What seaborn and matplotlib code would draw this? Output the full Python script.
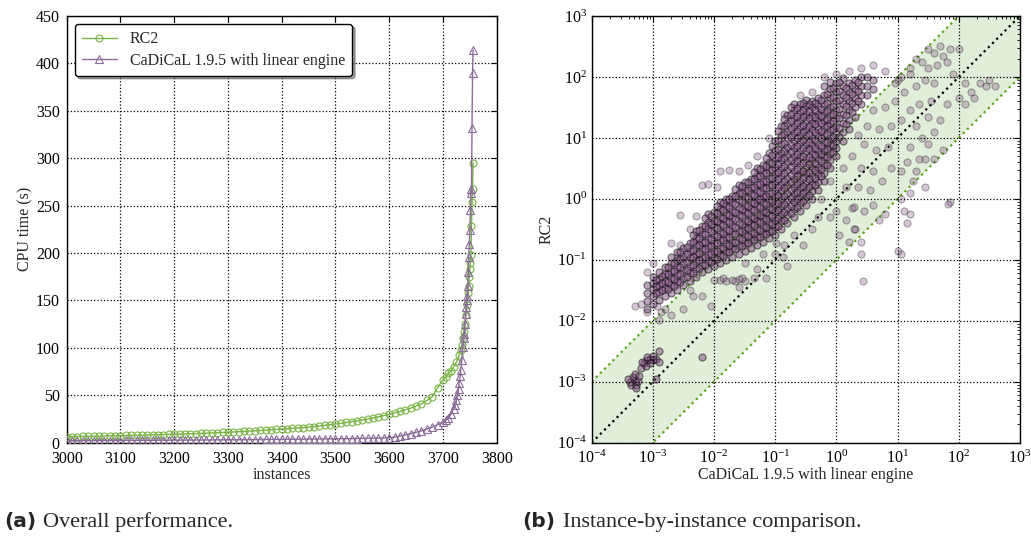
import numpy as np
import pandas as pd
import matplotlib
matplotlib.use("Agg")
import matplotlib.pyplot as plt
import seaborn as sns

# ---------------- data: cactus plot ----------------
rc2_idx = list(range(3000, 3701, 10)) + [3705, 3710, 3715, 3720, 3725, 3730, 3733, 3735, 3737, 3739,
                                         3741, 3743, 3745, 3747, 3748, 3749, 3750, 3751, 3752, 3753,
                                         3754, 3755, 3756]
rc2_time = [6.3, 6.4, 6.5, 6.6, 6.7, 6.8, 6.9, 7.1, 7.2, 7.4,
            7.5, 7.6, 7.8, 7.9, 8.0, 8.2, 8.3, 8.4, 8.6, 8.7,
            8.8, 9.0, 9.2, 9.4, 9.6, 9.8, 10.0, 10.3, 10.5, 10.8,
            11.0, 11.3, 11.6, 11.9, 12.2, 12.5, 12.9, 13.3, 13.7, 14.0,
            14.4, 14.8, 15.2, 15.6, 16.0, 16.5, 17.0, 17.6, 18.3, 19.0,
            19.7, 20.5, 21.3, 22.2, 23.1, 24.0, 25.0, 26.1, 27.3, 28.6,
            30.0, 31.5, 33.0, 34.6, 36.5, 38.7, 41.0, 44.5, 48.5, 58.0,
            66.0,
            69, 73, 76, 80, 85, 92, 98, 103, 110, 117,
            125, 135, 145, 158, 165, 175, 183, 190, 198, 228,
            254, 268, 295]

cad_idx = list(range(3000, 3701, 10)) + [3705, 3710, 3715, 3720, 3723, 3725, 3727, 3729, 3730, 3732,
                                         3733, 3735, 3737, 3739, 3740, 3741, 3742, 3743, 3744, 3745,
                                         3746, 3747, 3748, 3749, 3750, 3751, 3752, 3753, 3754, 3755,
                                         3756]
cad_time = [2.0, 2.0, 2.1, 2.1, 2.1, 2.2, 2.2, 2.2, 2.3, 2.3,
            2.3, 2.4, 2.4, 2.4, 2.5, 2.5, 2.5, 2.6, 2.6, 2.6,
            2.7, 2.7, 2.7, 2.8, 2.8, 2.8, 2.9, 2.9, 3.0, 3.0,
            3.0, 3.1, 3.1, 3.2, 3.2, 3.3, 3.3, 3.4, 3.4, 3.5,
            3.5, 3.6, 3.6, 3.7, 3.7, 3.8, 3.8, 3.9, 4.0, 4.0,
            4.1, 4.2, 4.2, 4.3, 4.4, 4.5, 4.6, 4.7, 4.8, 5.0,
            5.2, 5.8, 7.0, 8.2, 9.5, 11.0, 12.5, 14.5, 16.5, 19.0,
            21.5,
            23.5, 26, 30, 36, 40, 45, 50, 57, 63, 70,
            77, 87, 101, 110, 115, 125, 136, 143, 150, 155,
            165, 180, 196, 210, 224, 245, 263, 268, 332, 390,
            414]

# ---------------- data: scatter (log10 of CPU seconds) ----------------
# dense band: column (log10 CaDiCaL time) -> log10 RC2 times
band_cols = {
    -3.1: [-1.8, -1.68, -1.55, -1.42],
    -3.0: [-1.72, -1.6, -1.48, -1.38, -1.28],
    -2.9: [-1.66, -1.53, -1.42, -1.32, -1.2],
    -2.8: [-1.6, -1.47, -1.35, -1.24, -1.12],
    -2.7: [-1.55, -1.42, -1.3, -1.18, -1.05, -0.95],
    -2.6: [-1.5, -1.37, -1.25, -1.12, -1.0, -0.88],
    -2.5: [-1.42, -1.3, -1.17, -1.05, -0.93, -0.8],
    -2.4: [-1.35, -1.22, -1.1, -0.97, -0.85, -0.72],
    -2.3: [-1.28, -1.15, -1.02, -0.9, -0.77, -0.65, -0.52],
    -2.2: [-1.2, -1.08, -0.95, -0.82, -0.7, -0.57, -0.45],
    -2.1: [-1.15, -1.02, -0.9, -0.77, -0.64, -0.5, -0.38, -0.25],
    -2.0: [-1.1, -0.97, -0.85, -0.72, -0.6, -0.47, -0.35, -0.22],
    -1.9: [-1.05, -0.92, -0.8, -0.67, -0.55, -0.42, -0.3, -0.17, -0.05],
    -1.8: [-1.0, -0.87, -0.74, -0.62, -0.5, -0.37, -0.25, -0.12, 0.0],
    -1.7: [-0.95, -0.82, -0.7, -0.57, -0.44, -0.32, -0.2, -0.07, 0.05],
    -1.6: [-0.9, -0.77, -0.65, -0.52, -0.4, -0.27, -0.15, -0.02, 0.1, 0.22],
    -1.5: [-0.85, -0.72, -0.6, -0.47, -0.35, -0.22, -0.1, 0.03, 0.15, 0.28],
    -1.4: [-0.8, -0.67, -0.55, -0.42, -0.3, -0.17, -0.05, 0.08, 0.2, 0.33],
    -1.3: [-0.75, -0.62, -0.5, -0.37, -0.25, -0.12, 0.0, 0.13, 0.25, 0.38, 0.5],
    -1.2: [-0.7, -0.57, -0.45, -0.32, -0.2, -0.07, 0.05, 0.18, 0.3, 0.43, 0.55],
    -1.1: [-0.65, -0.52, -0.4, -0.27, -0.15, -0.02, 0.1, 0.23, 0.35, 0.48, 0.6, 0.75],
    -1.0: [-0.6, -0.47, -0.35, -0.22, -0.1, 0.03, 0.15, 0.28, 0.4, 0.53, 0.65, 0.8, 0.95],
    -0.9: [-0.5, -0.37, -0.25, -0.12, 0.0, 0.13, 0.25, 0.38, 0.5, 0.63, 0.75, 0.9, 1.05, 1.2],
    -0.8: [-0.4, -0.27, -0.15, -0.02, 0.1, 0.23, 0.35, 0.48, 0.6, 0.73, 0.85, 1.0, 1.12, 1.25, 1.38],
    -0.7: [-0.3, -0.17, -0.05, 0.08, 0.2, 0.33, 0.45, 0.58, 0.7, 0.83, 0.95, 1.08, 1.2, 1.33, 1.45, 1.55],
    -0.6: [-0.2, -0.07, 0.05, 0.18, 0.3, 0.43, 0.55, 0.68, 0.8, 0.93, 1.05, 1.18, 1.3, 1.42, 1.55],
    -0.5: [-0.1, 0.03, 0.15, 0.28, 0.4, 0.53, 0.65, 0.78, 0.9, 1.03, 1.15, 1.28, 1.4, 1.52, 1.62],
    -0.4: [0.0, 0.13, 0.25, 0.38, 0.5, 0.63, 0.75, 0.88, 1.0, 1.13, 1.25, 1.38, 1.5, 1.6],
    -0.3: [0.15, 0.28, 0.4, 0.53, 0.65, 0.78, 0.9, 1.03, 1.15, 1.28, 1.4, 1.52, 1.65],
    -0.2: [0.3, 0.43, 0.55, 0.68, 0.8, 0.93, 1.05, 1.18, 1.3, 1.42, 1.55, 1.7, 1.85],
    -0.1: [0.5, 0.63, 0.75, 0.88, 1.0, 1.13, 1.25, 1.38, 1.5, 1.65, 1.8, 1.92],
    0.0: [0.7, 0.83, 0.95, 1.08, 1.2, 1.33, 1.45, 1.6, 1.75, 1.9],
    0.1: [0.95, 1.1, 1.25, 1.4, 1.55, 1.7, 1.85, 1.98],
    0.2: [1.15, 1.3, 1.45, 1.6, 1.75, 1.9],
    0.3: [1.35, 1.5, 1.65, 1.8, 1.95],
    0.4: [1.55, 1.7, 1.85, 2.0],
    0.5: [1.7, 1.85, 2.0],
    0.6: [1.8, 1.95],
}
# second, interleaved set of columns in the dark core of the band
core_cols = {
    -2.95: [-1.55, -1.43, -1.33],
    -2.85: [-1.5, -1.38, -1.27],
    -2.75: [-1.48, -1.36, -1.24, -1.12],
    -2.65: [-1.43, -1.31, -1.19, -1.06],
    -2.55: [-1.36, -1.24, -1.11, -0.99, -0.87],
    -2.45: [-1.29, -1.16, -1.04, -0.91, -0.79],
    -2.35: [-1.22, -1.09, -0.96, -0.84, -0.71, -0.59],
    -2.25: [-1.14, -1.01, -0.89, -0.76, -0.64, -0.51],
    -2.15: [-1.08, -0.96, -0.83, -0.7, -0.57, -0.44, -0.31],
    -2.05: [-1.03, -0.91, -0.78, -0.66, -0.53, -0.41, -0.28],
    -1.95: [-0.98, -0.86, -0.73, -0.61, -0.48, -0.36, -0.23, -0.11],
    -1.85: [-0.93, -0.81, -0.68, -0.56, -0.43, -0.31, -0.18, -0.06],
    -1.75: [-0.88, -0.76, -0.63, -0.51, -0.38, -0.26, -0.13, 0.0],
    -1.65: [-0.83, -0.71, -0.58, -0.46, -0.33, -0.21, -0.08, 0.04, 0.16],
    -1.55: [-0.78, -0.66, -0.53, -0.41, -0.28, -0.16, -0.03, 0.09, 0.21],
    -1.45: [-0.73, -0.61, -0.48, -0.36, -0.23, -0.11, 0.02, 0.14, 0.27],
    -1.35: [-0.68, -0.56, -0.43, -0.31, -0.18, -0.06, 0.07, 0.19, 0.32, 0.44],
    -1.25: [-0.63, -0.51, -0.38, -0.26, -0.13, -0.01, 0.12, 0.24, 0.37, 0.49],
    -1.15: [-0.58, -0.46, -0.33, -0.21, -0.08, 0.04, 0.17, 0.29, 0.42, 0.54, 0.67],
    -1.05: [-0.53, -0.41, -0.28, -0.16, -0.03, 0.09, 0.22, 0.34, 0.47, 0.59, 0.72, 0.87],
    -0.95: [-0.44, -0.31, -0.19, -0.06, 0.07, 0.19, 0.32, 0.44, 0.57, 0.69, 0.82, 0.97, 1.12],
    -0.85: [-0.34, -0.21, -0.09, 0.04, 0.17, 0.29, 0.42, 0.54, 0.67, 0.79, 0.92, 1.06, 1.19, 1.31],
    -0.75: [-0.24, -0.11, 0.02, 0.14, 0.27, 0.39, 0.52, 0.64, 0.77, 0.89, 1.02, 1.14, 1.27, 1.39, 1.5],
    -0.65: [-0.14, -0.01, 0.12, 0.24, 0.37, 0.49, 0.62, 0.74, 0.87, 0.99, 1.12, 1.24, 1.36, 1.49],
    -0.55: [-0.04, 0.09, 0.21, 0.34, 0.46, 0.59, 0.71, 0.84, 0.96, 1.09, 1.21, 1.34, 1.46, 1.57],
    -0.45: [0.07, 0.19, 0.32, 0.44, 0.57, 0.69, 0.82, 0.94, 1.07, 1.19, 1.32, 1.44, 1.55],
    -0.35: [0.22, 0.34, 0.47, 0.59, 0.72, 0.84, 0.97, 1.09, 1.22, 1.34, 1.46, 1.58],
    -0.25: [0.37, 0.49, 0.62, 0.74, 0.87, 0.99, 1.12, 1.24, 1.36, 1.48, 1.62],
    -0.15: [0.56, 0.69, 0.81, 0.94, 1.06, 1.19, 1.31, 1.44, 1.57, 1.72],
    -0.05: [0.77, 0.89, 1.02, 1.14, 1.27, 1.39, 1.52, 1.67, 1.82],
    0.05: [1.02, 1.17, 1.32, 1.47, 1.62, 1.77, 1.92],
    0.15: [1.22, 1.37, 1.52, 1.67, 1.82],
    0.25: [1.42, 1.57, 1.72, 1.87],
    0.35: [1.6, 1.77, 1.92],
}

# small instances cluster
small_cad = [-3.35, -3.3, -3.28, -3.33, -3.25, -3.38, -3.3, -3.22, -3.4, -3.27,
             -3.2, -3.15, -3.1, -3.05, -3.0, -2.95, -3.05, -2.9, -3.1, -3.0,
             -2.95, -2.9, -2.2, -3.12, -3.18]
small_rc2 = [-3.05, -2.98, -3.05, -2.93, -2.98, -3.0, -2.88, -2.9, -2.95, -3.1,
             -2.78, -2.7, -2.65, -2.62, -2.65, -2.62, -2.7, -2.68, -2.6, -2.58,
             -2.95, -2.5, -2.6, -2.75, -2.68]

# sparse points around the band
sparse_cad = [-2.9, -2.87, -2.93, -3.3, -3.2, -3.1, -2.8, -2.7, -3.0, -3.1,
              -2.7, -2.55, -2.55, -2.3, -2.2, -2.1, -1.95, -1.75, -1.9, -2.4,
              -2.6, -1.6, -1.45, -1.3, -1.1, -0.85, -0.6, -0.4, -0.2, 0.0,
              0.2, 0.4, 0.6, 0.8, 1.0, 1.05, 0.95, 1.2, 1.3, 1.4,
              1.5, 1.6, 1.7, 1.75, 1.65, 1.5, 1.85, 2.0, 1.8, 1.2,
              1.1, 1.3, 1.45, 1.6, 2.1, 2.2, 2.35, 2.45, 2.6, 2.5,
              2.0, 2.1, 1.9, 2.25, 1.8, 1.55, 1.35, 1.2, 1.5, 1.7,
              1.3, 1.05, 1.4, 1.6, 1.2, 1.45, 1.15, 1.3, 1.45, 1.2,
              1.05, 1.1, 1.0, 1.05, 1.85, 1.82, 1.15, 1.2, 1.6, 1.75,
              1.5, 1.35, 1.25, 1.05, -1.5, -1.3, -1.2, -1.0, -0.85, -0.7,
              -0.55, -0.4, -0.3, -0.1, 0.0, 0.15, 0.3, 0.4, 0.25, 0.45,
              0.6, 0.7, 0.8, 0.55, 0.35, 0.15, 0.4, 0.6, 0.75, 0.9,
              0.85, 0.65, 0.45, 0.25, 0.5, 0.7, 0.9, 0.8, 0.95, 0.6,
              0.35, 0.1, -0.1, -0.25, 0.44, 0.4, -0.8, -1.15, -1.6, -2.2,
              -2.05, -2.35, -2.5, -2.4, -2.0, -1.9, -1.8, -1.7, -1.6, -1.5,
              -1.55, -1.35, -1.85, -1.65, 0.05, 0.2, 0.28, 0.28, -0.98, -0.87]
sparse_rc2 = [-1.98, -1.85, -1.75, -1.75, -1.72, -1.85, -1.8, -1.9, -1.05, -1.2,
              -0.73, -0.76, -0.26, -0.28, 0.22, 0.25, 0.2, 0.47, 0.45, -0.5,
              -0.95, 0.45, 0.55, 0.7, 1.0, 1.4, 1.7, 1.75, 2.0, 2.05,
              2.1, 2.15, 2.2, 2.1, 1.95, 2.0, 1.9, 2.15, 2.3, 2.25,
              2.45, 2.4, 2.5, 2.35, 2.2, 2.15, 2.45, 2.45, 2.25, 2.05,
              1.75, 1.85, 1.95, 1.9, 1.9, 1.75, 1.9, 1.85, 1.85, 1.95,
              1.65, 1.55, 2.05, 1.65, 1.55, 1.6, 1.55, 1.45, 1.35, 1.3,
              1.2, 1.3, 1.0, 1.1, 0.85, 0.65, 0.6, 0.45, 0.2, 0.1,
              0.0, -0.2, -0.85, -0.9, -0.05, -0.08, -0.4, -0.25, 0.65, 0.8,
              0.9, 0.65, 0.3, 0.45, -1.05, -1.15, -0.9, -0.9, -0.75, -0.6,
              -0.75, -0.5, -0.3, -0.3, -0.2, -0.35, -0.5, -0.7, -0.15, -0.2,
              -0.1, -0.35, -0.25, 0.15, 0.2, 0.2, 0.5, 0.45, 0.3, 0.5,
              0.85, 0.8, 0.9, 0.7, 1.2, 1.15, 1.2, 1.5, 1.6, 1.45,
              1.05, 0.5, 0.3, 0.0, -1.34, -0.9, -1.1, -1.3, -1.45, -1.6,
              -1.75, -1.6, -1.8, -1.5, -1.33, -1.33, -1.35, -1.33, -1.32, -1.35,
              -1.3, -1.3, -1.3, -1.35, -0.6, -0.7, -0.13, -0.5, -0.73, -0.95]

# ---------------- build tables ----------------
band_x, band_y = [], []
for cols in (band_cols, core_cols):
    for cx, ys in cols.items():
        band_x += [cx] * len(ys)
        band_y += ys
dense_df = pd.DataFrame({"cad": np.power(10.0, band_x + small_cad),
                         "rc2": np.power(10.0, band_y + small_rc2)})
sparse_df = pd.DataFrame({"cad": np.power(10.0, sparse_cad),
                          "rc2": np.power(10.0, sparse_rc2)})

rc2_df = pd.DataFrame({"instances": rc2_idx, "time": rc2_time})
cad_df = pd.DataFrame({"instances": cad_idx, "time": cad_time})

# ---------------- style ----------------
sns.set_style("white")
plt.rcParams["font.family"] = ["Liberation Serif", "DejaVu Serif"]
plt.rcParams["mathtext.fontset"] = "stix"
plt.rcParams["font.size"] = 11.5
plt.rcParams["axes.edgecolor"] = "black"
plt.rcParams["axes.linewidth"] = 1.0
plt.rcParams["xtick.color"] = "black"
plt.rcParams["ytick.color"] = "black"

GREEN = "#78b544"
PURPLE = "#8a6b99"
DOT = "#7a487a"
FS = 11.5

fig = plt.figure(figsize=(10.31, 5.36), dpi=100)
ax1 = fig.add_axes([0.0647, 0.1741, 0.4171, 0.7961])
ax2 = fig.add_axes([0.5739, 0.1741, 0.4154, 0.7961])

# ---------------- left: cactus ----------------
sns.lineplot(data=rc2_df, x="instances", y="time", ax=ax1, color=GREEN, lw=1.0,
             marker="o", markersize=5, markerfacecolor="none", markeredgecolor=GREEN,
             markeredgewidth=0.8, label="RC2", sort=False, zorder=3)
sns.lineplot(data=cad_df, x="instances", y="time", ax=ax1, color=PURPLE, lw=1.0,
             marker="^", markersize=5.5, markerfacecolor="none", markeredgecolor=PURPLE,
             markeredgewidth=0.8, label="CaDiCaL 1.9.5 with linear engine", sort=False, zorder=3)
ax1.set_xlim(3000, 3800)
ax1.set_ylim(0, 450)
ax1.set_xticks(range(3000, 3801, 100))
ax1.set_yticks(range(0, 451, 50))
ax1.set_xlabel("instances", labelpad=0, fontsize=FS)
ax1.set_ylabel("CPU time (s)", labelpad=2, fontsize=FS)
ax1.grid(True, color="black", linestyle=":", linewidth=0.9)
ax1.tick_params(direction="in", top=True, right=True, length=4, labelsize=FS)
ax1.tick_params(axis="x", pad=6)
ax1.tick_params(axis="y", pad=5)
leg = ax1.legend(loc="upper left", frameon=True, fancybox=True, shadow=True,
                 edgecolor="black", framealpha=1, fontsize=FS, borderpad=0.45,
                 handlelength=2.2, labelspacing=0.35)
leg.get_frame().set_linewidth(1.0)

# ---------------- right: scatter ----------------
lo, hi = 1e-4, 1e3
guide = np.array([lo, hi])
ax2.fill_between(guide, guide / 10, guide * 10, color="#e1eed9", zorder=0, lw=0)
ax2.plot(guide, guide / 10, color="#5aa51c", ls=":", lw=1.6, zorder=1)
ax2.plot(guide, guide * 10, color="#5aa51c", ls=":", lw=1.6, zorder=1)
ax2.plot(guide, guide, color="black", ls=":", lw=1.6, zorder=1)
sns.scatterplot(data=sparse_df, x="cad", y="rc2", ax=ax2, color=DOT,
                edgecolor="black", linewidth=0.8, alpha=0.3, s=26, zorder=2, legend=False)
sns.scatterplot(data=dense_df, x="cad", y="rc2", ax=ax2, color=DOT,
                edgecolor="black", linewidth=0.8, alpha=0.5, s=26, zorder=2, legend=False)
ax2.set_xscale("log")
ax2.set_yscale("log")
ax2.set_xlim(lo, hi)
ax2.set_ylim(lo, hi)
ax2.set_xticks([10.0 ** k for k in range(-4, 4)])
ax2.set_yticks([10.0 ** k for k in range(-4, 4)])
ax2.set_xlabel("CaDiCaL 1.9.5 with linear engine", labelpad=0, fontsize=FS)
ax2.set_ylabel("RC2", labelpad=2, fontsize=FS)
ax2.grid(True, which="major", color="black", linestyle=":", linewidth=0.9)
ax2.tick_params(which="major", direction="in", top=True, right=True, length=4, labelsize=FS)
ax2.tick_params(which="minor", direction="in", top=True, right=True, length=2)
ax2.tick_params(axis="x", which="major", pad=5)
ax2.set_axisbelow(False)

# ---------------- captions ----------------
fig.text(0.004, 0.016, "(a)", family="DejaVu Sans", fontweight="bold", fontsize=14.5)
fig.text(0.0417, 0.016, "Overall performance.", fontsize=16)
fig.text(0.507, 0.016, "(b)", family="DejaVu Sans", fontweight="bold", fontsize=14.5)
fig.text(0.546, 0.016, "Instance-by-instance comparison.", fontsize=16)

fig.savefig("out.png", dpi=100)
